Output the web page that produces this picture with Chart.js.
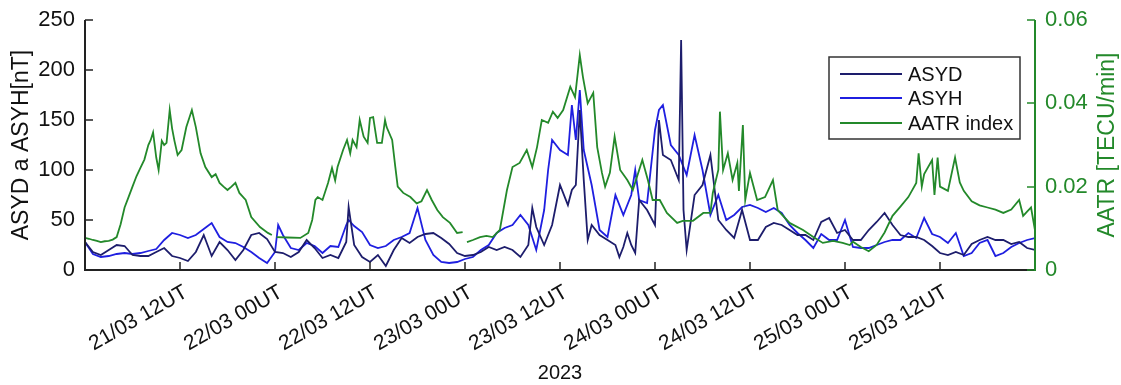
<!DOCTYPE html>
<html><head><meta charset="utf-8">
<script src="https://cdn.jsdelivr.net/npm/chart.js@4/dist/chart.umd.min.js"></script>
<style>html,body{margin:0;padding:0;background:#fff;}#wrap{width:1121px;height:385px;}</style>
</head><body><div id="wrap"><canvas id="c" width="1121" height="385"></canvas></div>
<script>
// X axis: hours since 21/03/2023 00UT
const xTickHours = [12, 24, 36, 48, 60, 72, 84, 96, 108];
const xTickLabels = ['21/03 12UT','22/03 00UT','22/03 12UT','23/03 00UT','23/03 12UT','24/03 00UT','24/03 12UT','25/03 00UT','25/03 12UT'];
const leftTicks = [0, 50, 100, 150, 200, 250];
const rightTicks = [0, 0.02, 0.04, 0.06];
const seriesLabels = ['ASYD', 'ASYH', 'AATR index'];

const asydHours = [0,1,2,3,4,5,6,7,8,9,10,11,12,13,14,15,16,17,18,19,20,21,22,23,24,
 25,26,27,28,29,30,31,32,33,33.3,34,35,36,37,38,39,40,41,42,43,44,45,46,47,48,
 49,50,51,52,53,54,55,56,56.5,57,58,59,60,61,61.5,62,62.5,63,63.5,64,65,66,67,67.5,68,68.5,69,69.5,70,71,72,72.5,
 73,74,75,75.3,75.6,76,77,78,79,80,81,82,83,84,85,86,87,88,89,90,91,92,93,94,95,96,
 97,98,99,100,101,102,103,104,105,106,107,108,109,110,111,112,113,114,115,116,117,118,119,120];
const asydValues = [28,18,15,20,25,24,15,14,14,18,22,14,12,9,18,35,14,28,20,10,20,35,37,31,18,
 17,13,18,30,22,12,15,12,28,63,25,13,8,15,4,20,32,27,33,36,37,32,26,17,14,
 15,18,23,20,23,20,13,25,62,43,25,45,85,65,80,85,160,90,30,45,35,30,25,13,23,37,25,17,70,60,45,150,
 115,110,90,230,60,20,75,85,115,50,40,32,60,30,30,43,47,45,40,35,35,30,48,52,37,40,
 30,30,40,48,57,45,35,33,33,30,24,17,15,18,15,26,30,33,30,30,26,28,22,20];

const asyhHours = [0,1,2,3,4,5,6,7,8,9,10,11,12,13,14,15,16,17,18,19,20,21,22,23,24,24.4,
 25,26,27,28,29,30,31,32,33,33.3,34,35,36,37,38,39,40,41,42,43,44,45,46,47,48,
 49,50,51,52,53,54,55,56,57,58,58.5,59,60,61,61.5,62,62.5,63,64,65,66,67,68,69,69.5,70,71,72,72.5,
 73,74,75,76,77,78,79,80,81,82,83,84,85,86,87,88,89,90,91,92,93,94,95,96,
 97,98,99,100,101,102,103,104,105,106,107,108,109,110,111,112,113,114,115,116,117,118,119,120];
const asyhValues = [28,16,13,14,16,17,16,17,19,21,30,37,35,32,35,41,47,33,28,27,23,18,12,7,18,45,
 35,22,20,27,24,17,24,23,45,50,44,38,25,22,24,30,33,37,62,30,15,8,7,8,11,
 13,20,25,37,42,45,55,45,20,60,100,130,120,115,165,130,180,120,85,40,33,75,55,75,100,70,67,140,160,
 165,125,115,95,135,100,55,75,50,55,63,65,62,58,62,57,45,37,30,22,36,30,30,50,
 23,22,22,25,28,30,30,37,32,52,36,33,27,37,14,17,27,30,14,17,23,27,30,32];

const aatrHours = [0,0.5,1,1.5,2,2.5,3,3.5,4,4.5,5,5.5,6,6.5,7,7.5,8,8.3,8.6,9,9.3,9.7,10,10.3,10.7,11,11.3,11.7,12.2,12.8,13.5,14,14.6,15.2,16,16.5,17,17.5,18,18.5,19,19.5,20.3,21,22.1,23.1,23.6,23.8,
 24.2,25.6,27.2,28.2,28.7,29.1,29.4,30,30.7,31.2,31.6,31.9,32.6,33.1,33.5,33.8,34.3,34.7,35.2,35.7,36,36.4,36.9,37.5,37.9,38.1,38.8,39.2,39.5,40.2,41.1,41.9,42.5,43.2,43.8,44.5,45.2,46.1,47,47.7,47.9,
 48.25,49,49.9,50.7,51.5,52.4,53.3,54,54.9,55.8,56.5,57.1,57.7,58.5,59.1,59.7,60.4,61.3,61.9,62.5,62.9,63.5,64.2,64.7,65.3,65.7,66.3,66.9,67.6,68.5,69.2,70.4,71.1,71.7,72.6,
 73.5,74.8,75.5,76.8,78.1,79,79.3,80,80.2,80.6,81.2,81.8,82.4,82.6,83.1,83.4,84,84.9,85.9,86.9,87.5,89,90.7,92,93.2,94.5,95.7,96.6,
 97,98,99,100,101,102,103,104,105,105.3,105.7,106,107,107.3,107.7,108,109,109.9,110.5,111,112,113,114,115,116,117,118,118.5,119,119.5,120];
const aatrValues = [0.0077,0.0075,0.0072,0.0070,0.0067,0.0069,0.0070,0.0073,0.0079,0.0110,0.0150,0.0175,0.0200,0.0225,0.0245,0.0265,0.0300,0.0312,0.0330,0.0270,0.0240,0.0310,0.0300,0.0305,0.0384,0.0340,0.0310,0.0276,0.0288,0.0343,0.0384,0.0343,0.0280,0.0247,0.0223,0.0230,0.0209,0.0200,0.0192,0.0200,0.0209,0.0185,0.0168,0.0127,0.0103,0.0089,0.0084,null,
 0.0079,0.0078,0.0077,0.0089,0.0120,0.0168,0.0175,0.0168,0.0209,0.0245,0.0215,0.0247,0.0288,0.0312,0.0280,0.0312,0.0295,0.0360,0.0320,0.0305,0.0365,0.0367,0.0305,0.0305,0.0360,0.0343,0.0312,0.0247,0.0200,0.0185,0.0175,0.0160,0.0165,0.0192,0.0168,0.0144,0.0127,0.0113,0.0089,0.0091,null,
 0.0067,0.0072,0.0079,0.0082,0.0079,0.0096,0.0192,0.0247,0.0257,0.0288,0.0247,0.0295,0.0360,0.0353,0.0380,0.0365,0.0384,0.0440,0.0415,0.0516,0.0463,0.0400,0.0425,0.0295,0.0233,0.0200,0.0233,0.0320,0.0240,0.0216,0.0192,0.0264,0.0216,0.0168,0.0168,
 0.0137,0.0113,0.0118,0.0118,0.0137,0.0137,0.0185,0.0240,0.0380,0.0240,0.0280,0.0216,0.0257,0.0190,0.0348,0.0168,0.0233,0.0168,0.0175,0.0216,0.0144,0.0113,0.0096,0.0079,0.0065,0.0070,0.0065,0.0060,
 0.0068,0.0055,0.0045,0.0060,0.0090,0.0130,0.0152,0.0175,0.0209,0.0280,0.0200,0.0230,0.0264,0.0180,0.0270,0.0200,0.0190,0.0270,0.0210,0.0190,0.0165,0.0155,0.0150,0.0145,0.0137,0.0145,0.0168,0.0130,0.0140,0.0150,0.0095];

const COL_ASYD = '#1d1d6c';
const COL_ASYH = '#1f1fe0';
const COL_AATR = '#23892a';
const FONT = '"Liberation Sans", Arial, Helvetica, sans-serif';

function pts(h, v) { return h.map((x, i) => ({ x: x, y: v[i] })); }

const decor = {
  id: 'decor',
  afterDraw(chart) {
    const ctx = chart.ctx, a = chart.chartArea;
    const xs = chart.scales.x, yl = chart.scales.y, yr = chart.scales.y2;
    ctx.save();
    ctx.lineCap = 'butt';
    ctx.lineWidth = 2;
    ctx.strokeStyle = '#222';
    ctx.beginPath();
    ctx.moveTo(a.left, a.top); ctx.lineTo(a.left, a.bottom); ctx.lineTo(a.right, a.bottom);
    ctx.stroke();
    ctx.strokeStyle = COL_AATR;
    ctx.beginPath(); ctx.moveTo(a.right, a.top); ctx.lineTo(a.right, a.bottom + 1); ctx.stroke();
    ctx.lineWidth = 1.5;
    ctx.strokeStyle = '#222';
    leftTicks.forEach(v => { const y = Math.round(yl.getPixelForValue(v)); ctx.beginPath(); ctx.moveTo(a.left, y); ctx.lineTo(a.left + 8, y); ctx.stroke(); });
    xTickHours.forEach(v => { const x = Math.round(xs.getPixelForValue(v)); ctx.beginPath(); ctx.moveTo(x, a.bottom); ctx.lineTo(x, a.bottom - 8); ctx.stroke(); });
    ctx.strokeStyle = COL_AATR;
    rightTicks.forEach(v => { const y = Math.round(yr.getPixelForValue(v)); ctx.beginPath(); ctx.moveTo(a.right, y); ctx.lineTo(a.right - 8, y); ctx.stroke(); });
    ctx.font = '23px ' + FONT;
    ctx.textAlign = 'center'; ctx.textBaseline = 'middle';
    ctx.fillStyle = '#111';
    ctx.save(); ctx.translate(22, (a.top + a.bottom) / 2); ctx.rotate(-Math.PI / 2); ctx.fillText('ASYD a ASYH[nT]', 0, 0); ctx.restore();
    ctx.fillStyle = COL_AATR;
    ctx.save(); ctx.translate(1108, (a.top + a.bottom) / 2); ctx.rotate(-Math.PI / 2); ctx.fillText('AATR [TECU/min]', 0, 0); ctx.restore();
    ctx.fillStyle = '#111';
    ctx.font = '20px ' + FONT;
    ctx.fillText('2023', (a.left + a.right) / 2, 373);
    const bx = 829, by = 57, bw = 191, bh = 82;
    ctx.fillStyle = '#fff'; ctx.fillRect(bx, by, bw, bh);
    ctx.strokeStyle = '#333'; ctx.lineWidth = 1.5; ctx.strokeRect(bx, by, bw, bh);
    const rows = [74, 98, 123];
    ctx.font = '20px ' + FONT; ctx.textAlign = 'left';
    chart.data.datasets.forEach((d, i) => {
      ctx.strokeStyle = d.borderColor; ctx.lineWidth = 1.8;
      ctx.beginPath(); ctx.moveTo(840, rows[i]); ctx.lineTo(902, rows[i]); ctx.stroke();
      ctx.fillStyle = '#111';
      ctx.fillText(d.label, 908, rows[i] + 1);
    });
    ctx.restore();
  }
};

new Chart(document.getElementById('c'), {
  type: 'line',
  data: {
    datasets: [
      { label: seriesLabels[0], data: pts(asydHours, asydValues), borderColor: COL_ASYD, yAxisID: 'y', order: 1 },
      { label: seriesLabels[1], data: pts(asyhHours, asyhValues), borderColor: COL_ASYH, yAxisID: 'y', order: 2 },
      { label: seriesLabels[2], data: pts(aatrHours, aatrValues), borderColor: COL_AATR, yAxisID: 'y2', order: 0 }
    ]
  },
  options: {
    responsive: false,
    animation: false,
    devicePixelRatio: 1,
    layout: { padding: { top: 20, left: 0, right: 0, bottom: 0 } },
    elements: { point: { radius: 0 }, line: { borderWidth: 1.8, tension: 0 } },
    spanGaps: false,
    plugins: { legend: { display: false }, tooltip: { enabled: false } },
    scales: {
      x: {
        type: 'linear', min: 0, max: 120, position: 'bottom',
        afterFit: s => { s.height = 115; },
        afterBuildTicks: s => { s.ticks = xTickHours.map(v => ({ value: v })); },
        grid: { display: false }, border: { display: false },
        ticks: {
          autoSkip: false, maxRotation: 30, minRotation: 30, padding: 2, labelOffset: 6,
          color: '#111', font: { size: 21, family: FONT },
          callback: v => { const i = xTickHours.indexOf(v); return i >= 0 ? xTickLabels[i] : ''; }
        }
      },
      y: {
        position: 'left', min: 0, max: 250,
        afterFit: s => { s.width = 85; },
        afterBuildTicks: s => { s.ticks = leftTicks.map(v => ({ value: v })); },
        grid: { display: false }, border: { display: false },
        ticks: { padding: 2, color: '#111', font: { size: 22, family: FONT } }
      },
      y2: {
        position: 'right', min: 0, max: 0.06,
        afterFit: s => { s.width = 86; },
        afterBuildTicks: s => { s.ticks = rightTicks.map(v => ({ value: v })); },
        grid: { display: false }, border: { display: false },
        ticks: { padding: 2, color: COL_AATR, font: { size: 22, family: FONT },
          callback: v => v === 0 ? '0' : v.toFixed(2) }
      }
    }
  },
  plugins: [decor]
});
</script></body></html>
